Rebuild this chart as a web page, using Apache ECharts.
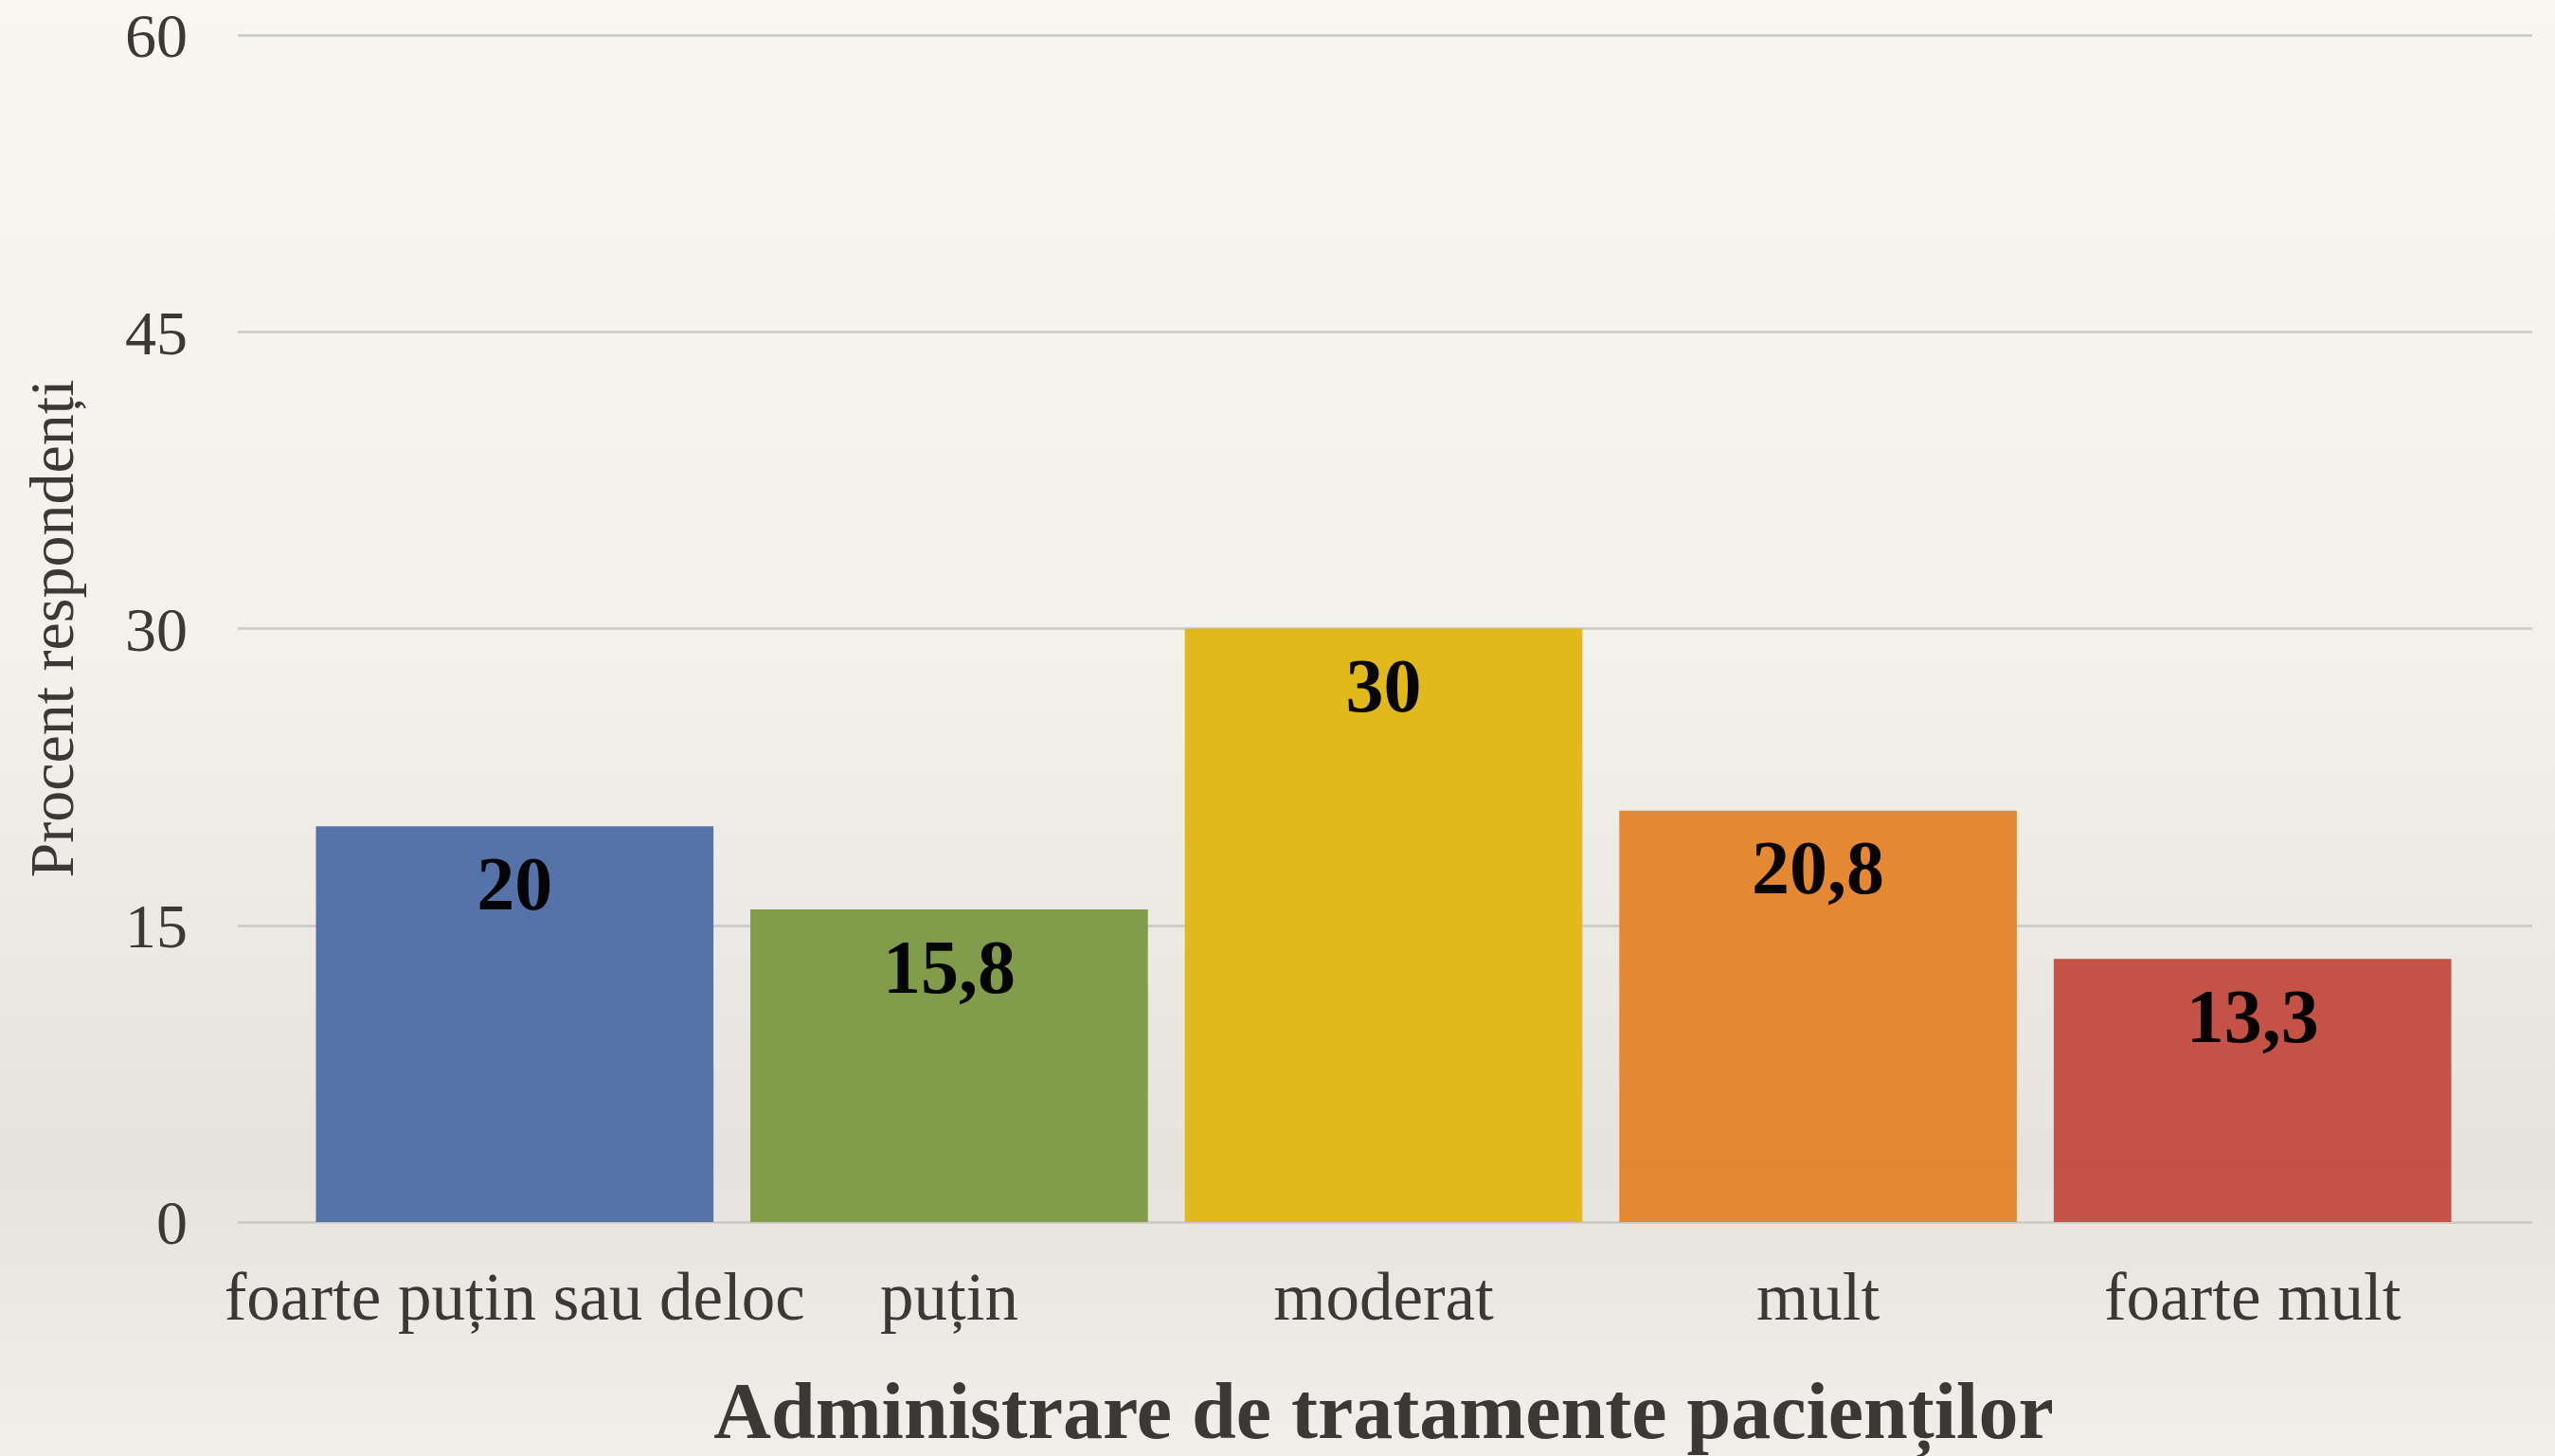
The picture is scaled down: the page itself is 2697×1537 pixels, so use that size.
<!DOCTYPE html>
<html>
<head>
<meta charset="utf-8">
<script src="https://cdn.jsdelivr.net/npm/echarts@6/dist/echarts.min.js"></script>
<style>
html,body{margin:0;padding:0;width:100%;height:100%;overflow:hidden;}
#c{width:2697px;height:1537px;}
</style>
</head>
<body>
<div id="c"></div>
<script>
const categories = ['foarte puțin sau deloc', 'puțin', 'moderat', 'mult', 'foarte mult'];
const values = [20, 15.8, 30, 20.8, 13.3];
const barColors = ['#506ea5', '#7d9a46', '#e1b716', '#e3842c', '#c24c41'];
const yTicks = [0, 15, 30, 45, 60];
const xTitle = 'Administrare de tratamente pacienților';
const yTitle = 'Procent respondenți';

const serif = '"Liberation Serif", "DejaVu Serif", serif';
const chart = echarts.init(document.getElementById('c'), null, {renderer: 'canvas'});

chart.setOption({
  backgroundColor: {
    type: 'linear', x: 0, y: 0, x2: 0, y2: 1,
    colorStops: [
      {offset: 0, color: '#f8f6f1'},
      {offset: 0.45, color: '#f3f1ec'},
      {offset: 0.8, color: '#e6e3de'},
      {offset: 1, color: '#f2efea'}
    ]
  },
  animation: false,
  grid: [
    {left: 251, right: 24, top: 37, bottom: 247, containLabel: false, outerBoundsMode: 'none'},
    {left: 314, right: 90, top: 37, bottom: 247, containLabel: false, outerBoundsMode: 'none'}
  ],
  xAxis: [
    {gridIndex: 0, type: 'value', show: false, min: 0, max: 1},
    {
      gridIndex: 1, type: 'category', data: categories,
      axisLine: {show: false}, axisTick: {show: false},
      axisLabel: {margin: 49, color: '#3a3935', fontFamily: serif, fontSize: 71, interval: 0},
      name: xTitle, nameLocation: 'middle', nameGap: 164,
      nameTextStyle: {color: '#3a3935', fontFamily: serif, fontSize: 84, fontWeight: 'bold'}
    }
  ],
  yAxis: [
    {
      gridIndex: 0, type: 'value', min: yTicks[0], max: yTicks[yTicks.length - 1], interval: 15,
      axisLine: {show: false}, axisTick: {show: false},
      splitLine: {show: true, lineStyle: {color: '#c9c8c5', width: 2.5}},
      axisLabel: {
        margin: 53, color: '#3a3935', fontFamily: serif, fontSize: 66,
        formatter: '{t|{value}}',
        rich: {t: {fontFamily: serif, fontSize: 66, color: '#3a3935', padding: [12, 0, 0, 0]}}
      },
      name: yTitle, nameLocation: 'middle', nameGap: 158,
      nameTextStyle: {color: '#3a3935', fontFamily: serif, fontSize: 66}
    },
    {gridIndex: 1, type: 'value', show: false, min: yTicks[0], max: yTicks[yTicks.length - 1]}
  ],
  series: [{
    type: 'bar',
    xAxisIndex: 1, yAxisIndex: 1,
    barCategoryGap: '8.5%',
    data: values.map((v, i) => ({value: v, itemStyle: {color: barColors[i], opacity: 0.97}})),
    label: {
      show: true, position: 'insideTop', distance: 27,
      color: '#000', fontFamily: serif, fontSize: 80, fontWeight: 'bold',
      formatter: p => String(p.value).replace('.', ',')
    }
  }]
});
</script>
</body>
</html>
